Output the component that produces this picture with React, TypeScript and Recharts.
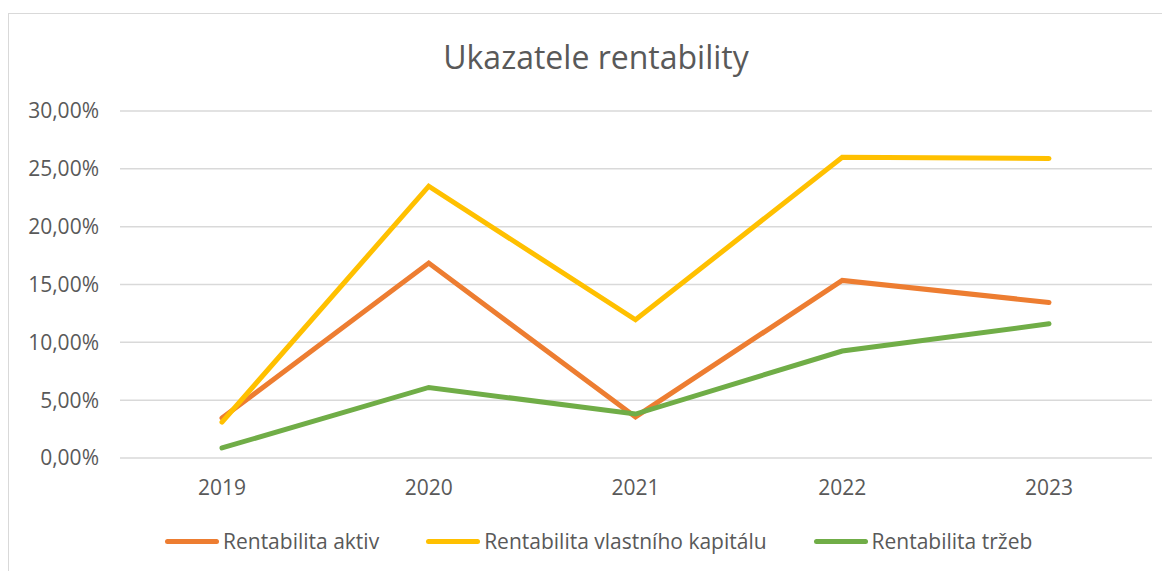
import { LineChart, Line, XAxis, YAxis, CartesianGrid } from 'recharts'

const years = ['2019', '2020', '2021', '2022', '2023']
const rentabilitaAktiv = [3.45, 16.85, 3.55, 15.35, 13.45]
const rentabilitaVlastnihoKapitalu = [3.1, 23.5, 11.95, 26.0, 25.9]
const rentabilitaTrzeb = [0.87, 6.1, 3.8, 9.25, 11.6]
const yTicks = [0, 5, 10, 15, 20, 25, 30]

const series = [
  { key: 'aktiv', name: 'Rentabilita aktiv', color: '#ED7D31', values: rentabilitaAktiv },
  { key: 'vk', name: 'Rentabilita vlastního kapitálu', color: '#FFC000', values: rentabilitaVlastnihoKapitalu },
  { key: 'trzby', name: 'Rentabilita tržeb', color: '#70AD47', values: rentabilitaTrzeb },
]

const data = years.map((year, i) => {
  const row: Record<string, string | number> = { year }
  series.forEach((s) => {
    row[s.key] = s.values[i]
  })
  return row
})

const font = '"Open Sans", sans-serif'
const textColor = '#595959'

function formatPct(v: number): string {
  return v.toFixed(2).replace('.', ',') + '%'
}

export default function App() {
  return (
    <div style={{ position: 'relative', width: 1162, height: 563, fontFamily: font }}>
      <div
        style={{
          position: 'absolute',
          left: 0,
          top: 5,
          width: 1154,
          height: 570,
          border: '1px solid #d9d9d9',
        }}
      />
      <div
        style={{
          position: 'absolute',
          left: 0,
          top: 27,
          width: 1176,
          textAlign: 'center',
          fontSize: 32,
          color: textColor,
        }}
      >
        Ukazatele rentability
      </div>
      <div style={{ position: 'absolute', left: 0, top: 0 }}>
        <LineChart
          width={1160}
          height={555}
          data={data}
          margin={{ top: 103, right: 16, left: 0, bottom: 75 }}
        >
          <CartesianGrid vertical={false} stroke="#d9d9d9" strokeWidth={1.5} />
          <XAxis
            dataKey="year"
            axisLine={false}
            tickLine={false}
            tickMargin={16}
            height={30}
            padding={{ left: 102, right: 103 }}
            tick={{ fill: textColor, fontSize: 21, fontFamily: font }}
          />
          <YAxis
            domain={[0, 30]}
            ticks={yTicks}
            width={112}
            axisLine={false}
            tickLine={false}
            tickMargin={15}
            tickFormatter={formatPct}
            tick={{ fill: textColor, fontSize: 21, fontFamily: font }}
          />
          {series.map((s) => (
            <Line
              key={s.key}
              dataKey={s.key}
              name={s.name}
              type="linear"
              stroke={s.color}
              strokeWidth={5}
              strokeLinecap="round"
              dot={false}
              isAnimationActive={false}
            />
          ))}
        </LineChart>
      </div>
      <div
        style={{
          position: 'absolute',
          left: 157,
          top: 519,
          display: 'flex',
          alignItems: 'center',
          gap: 47,
          fontSize: 21,
          color: textColor,
        }}
      >
        {series.map((s) => (
          <div key={s.key} style={{ display: 'flex', alignItems: 'center' }}>
            <div
              style={{
                width: 54,
                height: 5,
                borderRadius: 3,
                background: s.color,
                marginRight: 4,
              }}
            />
            <span>{s.name}</span>
          </div>
        ))}
      </div>
    </div>
  )
}
